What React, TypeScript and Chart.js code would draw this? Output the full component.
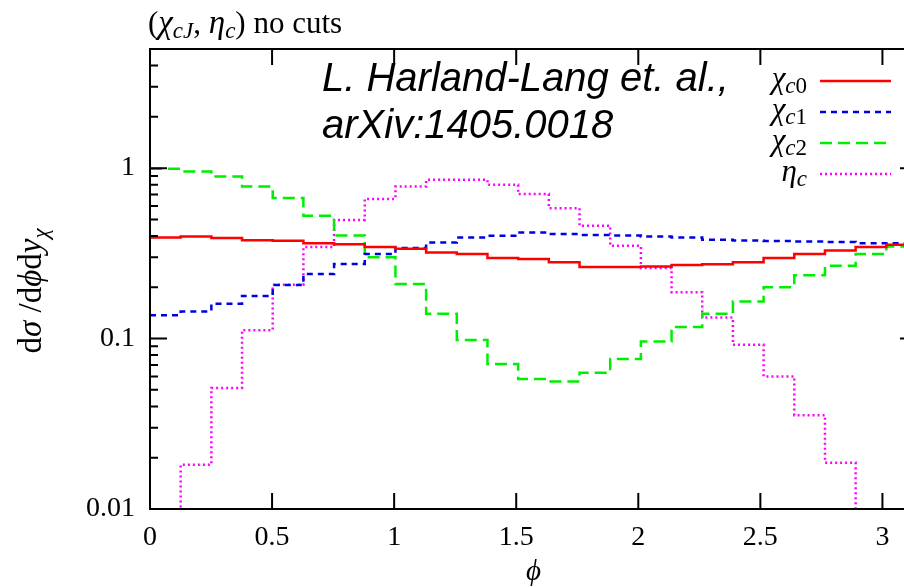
import React, { useEffect, useRef } from 'react';
import { Chart, registerables } from 'chart.js';

Chart.register(...registerables);

// 25 bins of equal width over 0..pi
const NBINS = 25;
const xTickValues = [0, 0.5, 1, 1.5, 2, 2.5, 3];
const yTickValues = [0.01, 0.1, 1];
const seriesLabels = ['χc0', 'χc1', 'χc2', 'ηc'];

const chiC0 = [0.392, 0.397, 0.389, 0.378, 0.375, 0.363, 0.358, 0.344, 0.337, 0.32, 0.313, 0.297, 0.293, 0.28, 0.263, 0.263, 0.265, 0.27, 0.273, 0.28, 0.297, 0.313, 0.329, 0.344, 0.355];
const chiC1 = [0.137, 0.144, 0.16, 0.178, 0.206, 0.239, 0.274, 0.313, 0.34, 0.366, 0.392, 0.401, 0.419, 0.41, 0.405, 0.402, 0.397, 0.392, 0.38, 0.376, 0.374, 0.371, 0.368, 0.363, 0.363];
const chiC2 = [0.99, 0.955, 0.893, 0.78, 0.667, 0.525, 0.403, 0.3, 0.209, 0.14, 0.098, 0.071, 0.058, 0.056, 0.063, 0.076, 0.096, 0.117, 0.14, 0.165, 0.2, 0.235, 0.267, 0.313, 0.347];
// values below 0.01 lie under the axis and are not visible
const etaC = [0.004, 0.0182, 0.0513, 0.112, 0.207, 0.344, 0.497, 0.66, 0.78, 0.854, 0.854, 0.8, 0.704, 0.582, 0.459, 0.35, 0.259, 0.187, 0.133, 0.092, 0.06, 0.0355, 0.0187, 0.006, 0.002];

const COLORS = ['#ff0000', '#0000e6', '#00ee00', '#ff00ff'];
const DASHES: number[][] = [[], [6, 5], [12, 6], [2, 3]];

const SERIF = '"Liberation Serif", "DejaVu Serif", serif';

function steps(vals: number[]) {
  const w = Math.PI / NBINS;
  const pts = vals.map((v, k) => ({ x: k * w, y: v }));
  pts.push({ x: NBINS * w, y: vals[vals.length - 1] });
  return pts;
}

type Run = { t: string; font: string; dy?: number };

function drawRuns(ctx: CanvasRenderingContext2D, runs: Run[], x: number, y: number, align: 'left' | 'right' | 'center') {
  ctx.textAlign = 'left';
  ctx.textBaseline = 'alphabetic';
  let total = 0;
  for (const r of runs) { ctx.font = r.font; total += ctx.measureText(r.t).width; }
  let cx = align === 'left' ? x : align === 'right' ? x - total : x - total / 2;
  for (const r of runs) {
    ctx.font = r.font;
    ctx.fillText(r.t, cx, y + (r.dy || 0));
    cx += ctx.measureText(r.t).width;
  }
}

const N = (s: number) => `${s}px ${SERIF}`;
const I = (s: number) => `italic ${s}px ${SERIF}`;

function legendRuns(i: number): Run[] {
  if (i < 3) return [{ t: 'χ', font: I(31) }, { t: 'c', font: I(23), dy: 5 }, { t: seriesLabels[i].slice(2), font: N(23), dy: 5 }];
  return [{ t: 'η', font: I(31) }, { t: 'c', font: I(23), dy: 5 }];
}

const decorPlugin = {
  id: 'decor',
  afterDatasetsDraw(chart: any) {
    const { ctx, chartArea: a, scales } = chart;
    const xs = scales.x;
    const ys = scales.y;
    ctx.save();
    ctx.strokeStyle = '#000';
    ctx.fillStyle = '#000';
    ctx.lineWidth = 2;
    ctx.setLineDash([]);
    ctx.strokeRect(a.left, a.top, a.right - a.left, a.bottom - a.top);
    ctx.beginPath();
    for (const v of xTickValues) {
      const px = xs.getPixelForValue(v);
      ctx.moveTo(px, a.bottom); ctx.lineTo(px, a.bottom - 16);
      ctx.moveTo(px, a.top); ctx.lineTo(px, a.top + 16);
    }
    for (const d of yTickValues) {
      for (let m = 1; m <= 9; m++) {
        const v = d * m;
        if (v > ys.max + 1e-9) break;
        const py = ys.getPixelForValue(v);
        const len = m === 1 ? 17 : 8;
        ctx.moveTo(a.left, py); ctx.lineTo(a.left + len, py);
        ctx.moveTo(a.right, py); ctx.lineTo(a.right - len, py);
      }
    }
    ctx.stroke();

    // legend
    const rowY = [81, 112, 143, 174];
    for (let i = 0; i < 4; i++) {
      ctx.fillStyle = '#000';
      drawRuns(ctx, legendRuns(i), 807, rowY[i] + 7, 'right');
      ctx.strokeStyle = COLORS[i];
      ctx.lineWidth = 2.5;
      ctx.setLineDash(DASHES[i]);
      ctx.beginPath();
      ctx.moveTo(820, rowY[i]);
      ctx.lineTo(891, rowY[i]);
      ctx.stroke();
    }
    ctx.setLineDash([]);
    ctx.fillStyle = '#000';

    // title
    drawRuns(ctx, [
      { t: '(', font: N(31) },
      { t: 'χ', font: I(33) },
      { t: 'cJ', font: I(23), dy: 5 },
      { t: ', ', font: N(31) },
      { t: 'η', font: I(33) },
      { t: 'c', font: I(23), dy: 5 },
      { t: ')', font: N(31) },
      { t: ' no cuts', font: N(31) },
    ], 148, 33, 'left');

    // annotation
    ctx.font = 'italic 40px "Liberation Sans", Arial, sans-serif';
    ctx.textAlign = 'left';
    ctx.textBaseline = 'alphabetic';
    ctx.fillText('L. Harland-Lang et. al.,', 322, 91);
    ctx.fillText('arXiv:1405.0018', 322, 138);

    // x title
    drawRuns(ctx, [{ t: 'ϕ', font: I(29) }], (a.left + a.right) / 2, 580, 'center');

    // y title
    ctx.save();
    ctx.translate(41, 291);
    ctx.rotate(-Math.PI / 2);
    drawRuns(ctx, [
      { t: 'd', font: N(33) },
      { t: 'σ', font: I(33) },
      { t: ' /', font: N(33) },
      { t: 'd', font: N(33) },
      { t: 'ϕ', font: I(33) },
      { t: 'd', font: N(33) },
      { t: 'y', font: I(33) },
      { t: 'χ', font: I(23), dy: 7 },
    ], 0, 0, 'center');
    ctx.restore();
    ctx.restore();
  },
};

export default function App() {
  const ref = useRef<HTMLCanvasElement>(null);
  useEffect(() => {
    if (!ref.current) return;
    const all = [chiC0, chiC1, chiC2, etaC];
    const chart = new Chart(ref.current, {
      type: 'line',
      data: {
        datasets: all.map((vals, i) => ({
          label: seriesLabels[i],
          data: steps(vals),
          borderColor: COLORS[i],
          borderWidth: 2.5,
          borderDash: DASHES[i],
          stepped: 'before' as const,
          pointRadius: 0,
          fill: false,
        })),
      },
      options: {
        animation: false,
        responsive: false,
        devicePixelRatio: 1,
        layout: { padding: { top: 49, right: 43, left: 0, bottom: 0 } },
        plugins: { legend: { display: false }, tooltip: { enabled: false }, title: { display: false } },
        scales: {
          x: {
            type: 'linear',
            min: 0,
            max: Math.PI,
            grid: { display: false, drawTicks: false },
            border: { display: false },
            ticks: { color: '#000', font: { family: SERIF, size: 28 }, padding: 12, maxRotation: 0, autoSkip: false, callback: (v: any) => String(v) },
            afterBuildTicks: (s: any) => { s.ticks = xTickValues.map((v) => ({ value: v })); },
            afterFit: (s: any) => { s.height = 78; },
          },
          y: {
            type: 'logarithmic',
            min: 0.01,
            max: 5,
            grid: { display: false, drawTicks: false },
            border: { display: false },
            ticks: { color: '#000', font: { family: SERIF, size: 28 }, padding: 15, autoSkip: false, callback: (v: any) => String(v) },
            afterBuildTicks: (s: any) => { s.ticks = yTickValues.map((v) => ({ value: v })); },
            afterFit: (s: any) => { s.width = 150; },
          },
        },
      },
      plugins: [decorPlugin],
    } as any);
    return () => chart.destroy();
  }, []);
  return (
    <div style={{ position: 'fixed', left: 0, top: 0, width: 904, height: 587, overflow: 'hidden', background: '#fff' }}>
      <canvas ref={ref} width={960} height={587} style={{ display: 'block', width: 960, height: 587 }} />
    </div>
  );
}
